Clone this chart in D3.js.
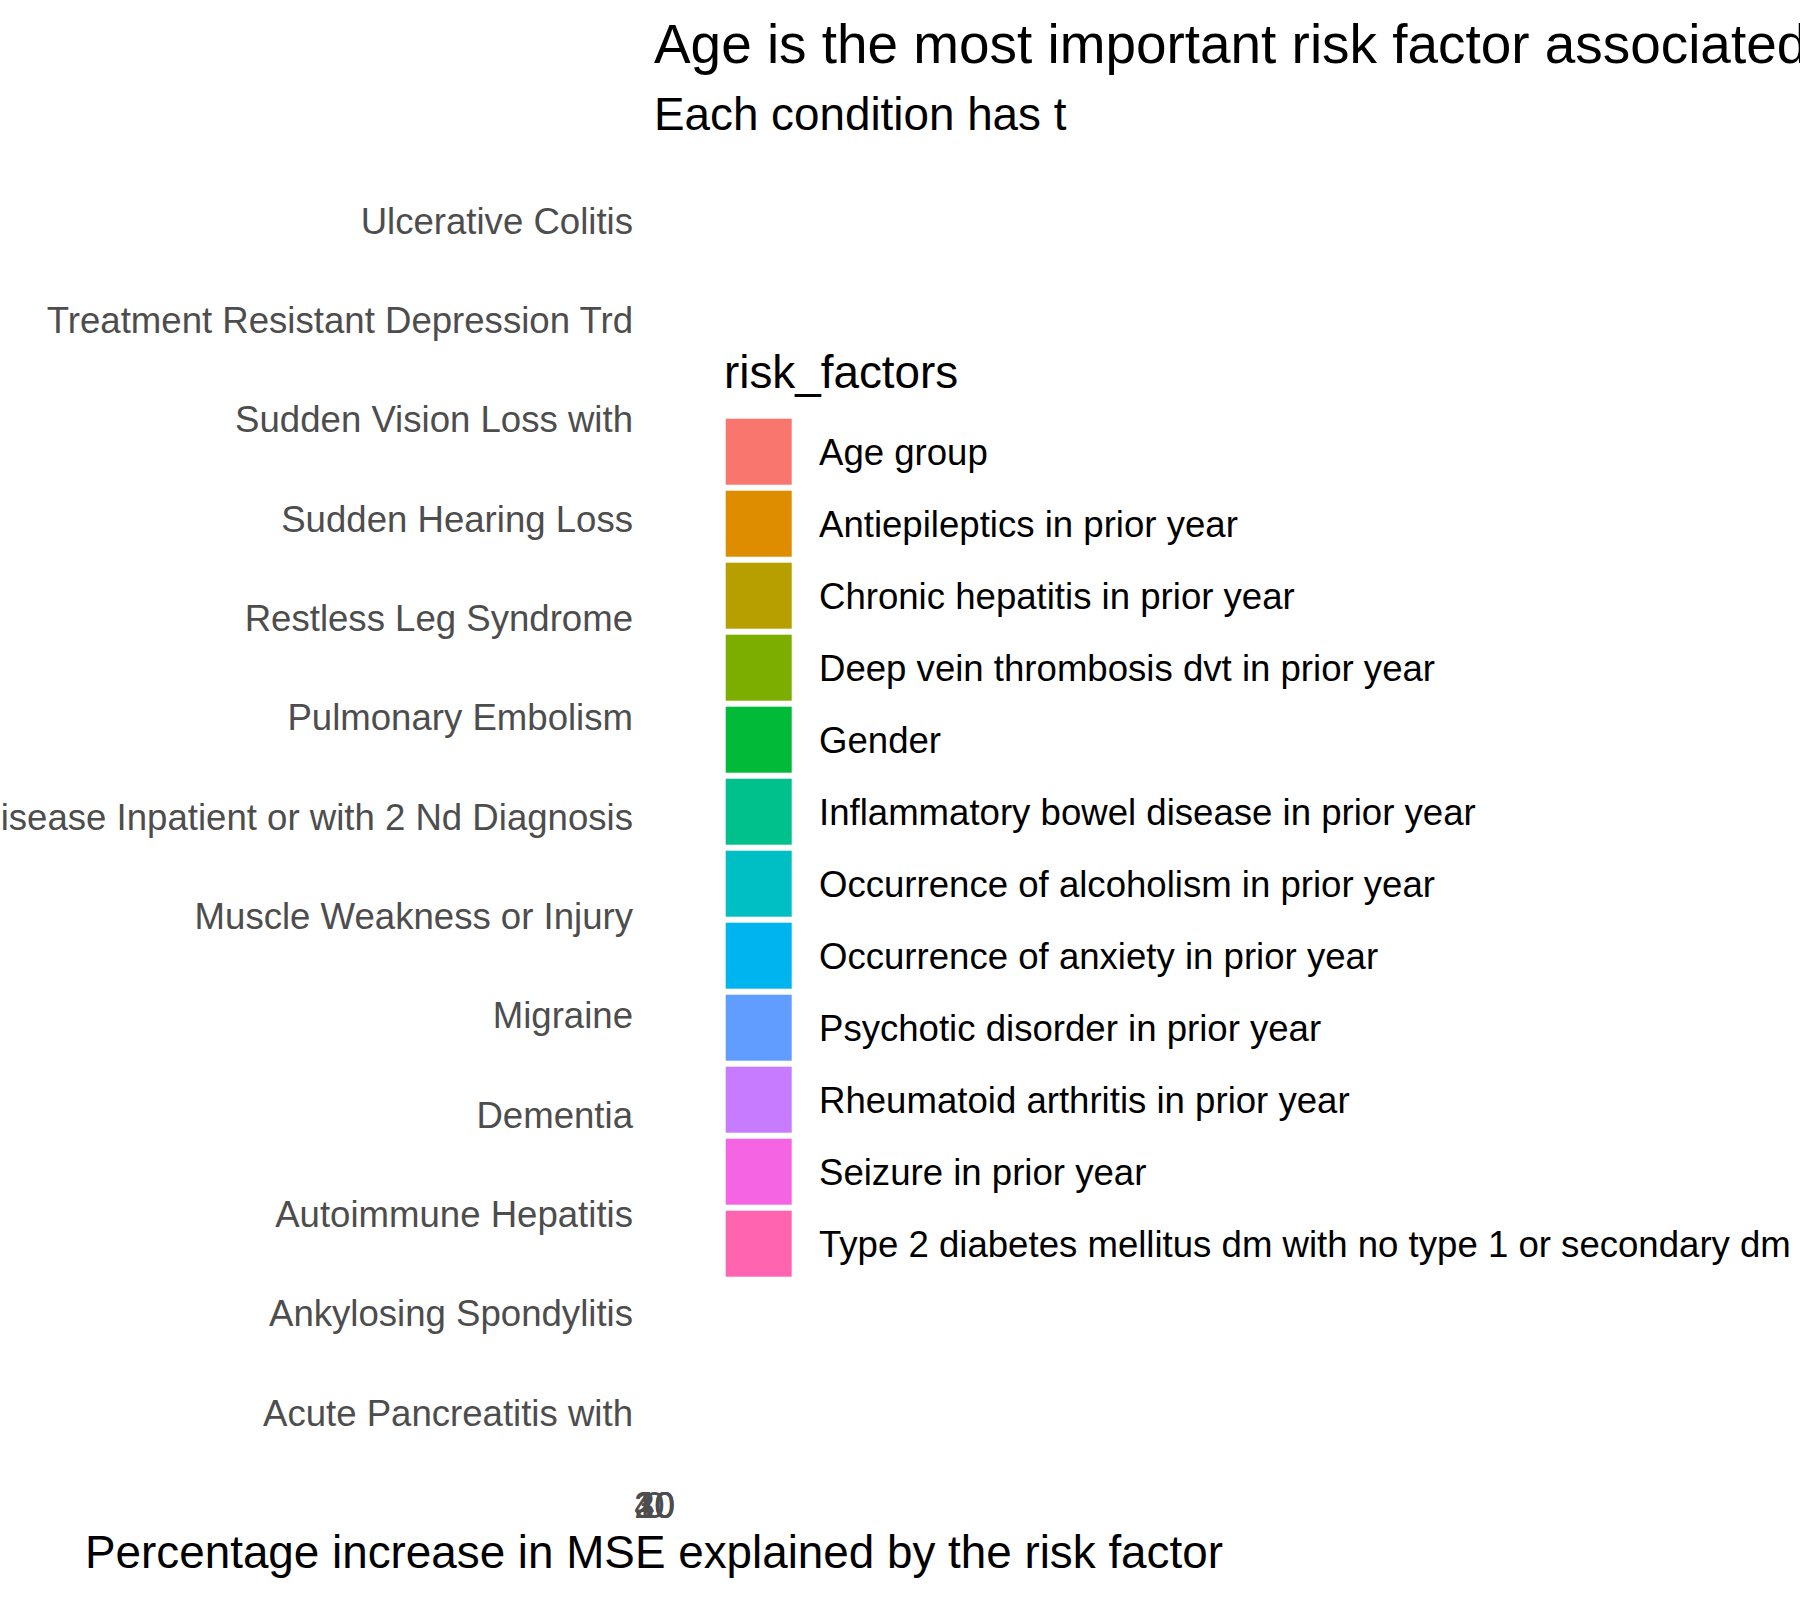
<!DOCTYPE html>
<html>
<head>
<meta charset="utf-8">
<script src="https://cdn.jsdelivr.net/npm/d3@7"></script>
<style>
  html, body { margin: 0; padding: 0; background: #fff; }
  svg { display: block; }
  text { font-family: "Liberation Sans", Arial, Helvetica, sans-serif; }
</style>
</head>
<body>
<svg id="chart" width="1800" height="1600"></svg>
<script>
// ---- data ----
const conditions = [
  "Acute Pancreatitis with",
  "Ankylosing Spondylitis",
  "Autoimmune Hepatitis",
  "Dementia",
  "Migraine",
  "Muscle Weakness or Injury",
  "Parkinsons Disease Inpatient or with 2 Nd Diagnosis",
  "Pulmonary Embolism",
  "Restless Leg Syndrome",
  "Sudden Hearing Loss",
  "Sudden Vision Loss with",
  "Treatment Resistant Depression Trd",
  "Ulcerative Colitis"
];
const riskFactors = [
  "Age group",
  "Antiepileptics in prior year",
  "Chronic hepatitis in prior year",
  "Deep vein thrombosis dvt in prior year",
  "Gender",
  "Inflammatory bowel disease in prior year",
  "Occurrence of alcoholism in prior year",
  "Occurrence of anxiety in prior year",
  "Psychotic disorder in prior year",
  "Rheumatoid arthritis in prior year",
  "Seizure in prior year",
  "Type 2 diabetes mellitus dm with no type 1 or secondary dm"
];
const factorColors = [
  "#F8766D", "#DE8C00", "#B79F00", "#7CAE00", "#00BA38", "#00C08B",
  "#00BFC4", "#00B4F0", "#619CFF", "#C77CFF", "#F564E3", "#FF64B0"
];
// Top risk factor per condition and its importance (the panel has no width, so bars are not visible)
const topFactor = [
  "Age group", "Age group", "Age group", "Age group", "Age group", "Age group", "Age group",
  "Age group", "Age group", "Age group", "Age group", "Age group", "Age group"
];
const importance = [30, 25, 22, 42, 28, 35, 40, 33, 27, 24, 26, 29, 21];
const xTicks = [0, 10, 20, 30, 40];

const titleText = "Age is the most important risk factor associated with";
const subtitleText = "Each condition has t";
const xTitle = "Percentage increase in MSE explained by the risk factor";
const legendTitle = "risk_factors";

// ---- layout ----
const svg = d3.select("#chart");
const panelLeft = 654, panelRight = 654;
const panelTop = 160.4, panelBottom = 1471.6;
const fsAxis = 36.6, fsBase = 45.8, fsTitle = 54.9;

const x = d3.scaleLinear().domain([0, 45]).range([panelLeft, panelRight]);
const y = d3.scalePoint().domain(conditions.slice().reverse()).range([panelTop, panelBottom]).padding(0.6);
const color = d3.scaleOrdinal().domain(riskFactors).range(factorColors);

// bars (zero-width panel)
svg.append("g").selectAll("rect")
  .data(conditions.map((c, i) => ({ c, f: topFactor[i], v: importance[i] })))
  .join("rect")
  .attr("x", x(0))
  .attr("y", d => y(d.c) - y.step() * 0.45)
  .attr("width", d => x(d.v) - x(0))
  .attr("height", y.step() * 0.9)
  .attr("fill", d => color(d.f));

// y axis labels
const yAxis = d3.axisLeft(y).tickSize(0).tickPadding(0);
const gy = svg.append("g").attr("transform", `translate(633,0)`).call(yAxis);
gy.select(".domain").remove();
gy.selectAll("text")
  .attr("x", 0)
  .attr("dy", "0.357em")
  .attr("fill", "#4D4D4D")
  .style("font-size", fsAxis + "px")
  .style("font-family", '"Liberation Sans", Arial, sans-serif');

// x axis labels
const xAxis = d3.axisBottom(x).tickValues(xTicks).tickSize(0).tickPadding(0);
const gx = svg.append("g").attr("transform", `translate(0,1517.5)`).call(xAxis);
gx.select(".domain").remove();
gx.selectAll("text")
  .attr("y", 0)
  .attr("dy", 0)
  .attr("fill", "#4D4D4D")
  .style("font-size", fsAxis + "px")
  .style("font-family", '"Liberation Sans", Arial, sans-serif');

// x title
svg.append("text")
  .attr("x", (panelLeft + panelRight) / 2)
  .attr("y", 1568)
  .attr("text-anchor", "middle")
  .style("font-size", fsBase + "px")
  .attr("fill", "#000")
  .text(xTitle);

// title & subtitle
svg.append("text")
  .attr("x", panelLeft).attr("y", 63)
  .style("font-size", fsTitle + "px").attr("fill", "#000")
  .text(titleText);
svg.append("text")
  .attr("x", panelLeft).attr("y", 129.5)
  .style("font-size", fsBase + "px").attr("fill", "#000")
  .text(subtitleText);

// legend
const legend = svg.append("g");
legend.append("text")
  .attr("x", 724).attr("y", 388)
  .style("font-size", fsBase + "px").attr("fill", "#000")
  .text(legendTitle);
const keyTop = 418.7, keyStep = 72, keySize = 66;
const items = legend.selectAll("g.item").data(riskFactors).join("g").attr("class", "item")
  .attr("transform", (d, i) => `translate(725.7,${keyTop + i * keyStep})`);
items.append("rect")
  .attr("width", keySize).attr("height", keySize)
  .attr("fill", d => color(d));
items.append("text")
  .attr("x", 819 - 725.7).attr("y", keySize / 2 + 13)
  .style("font-size", fsAxis + "px").attr("fill", "#000")
  .text(d => d);
</script>
</body>
</html>
